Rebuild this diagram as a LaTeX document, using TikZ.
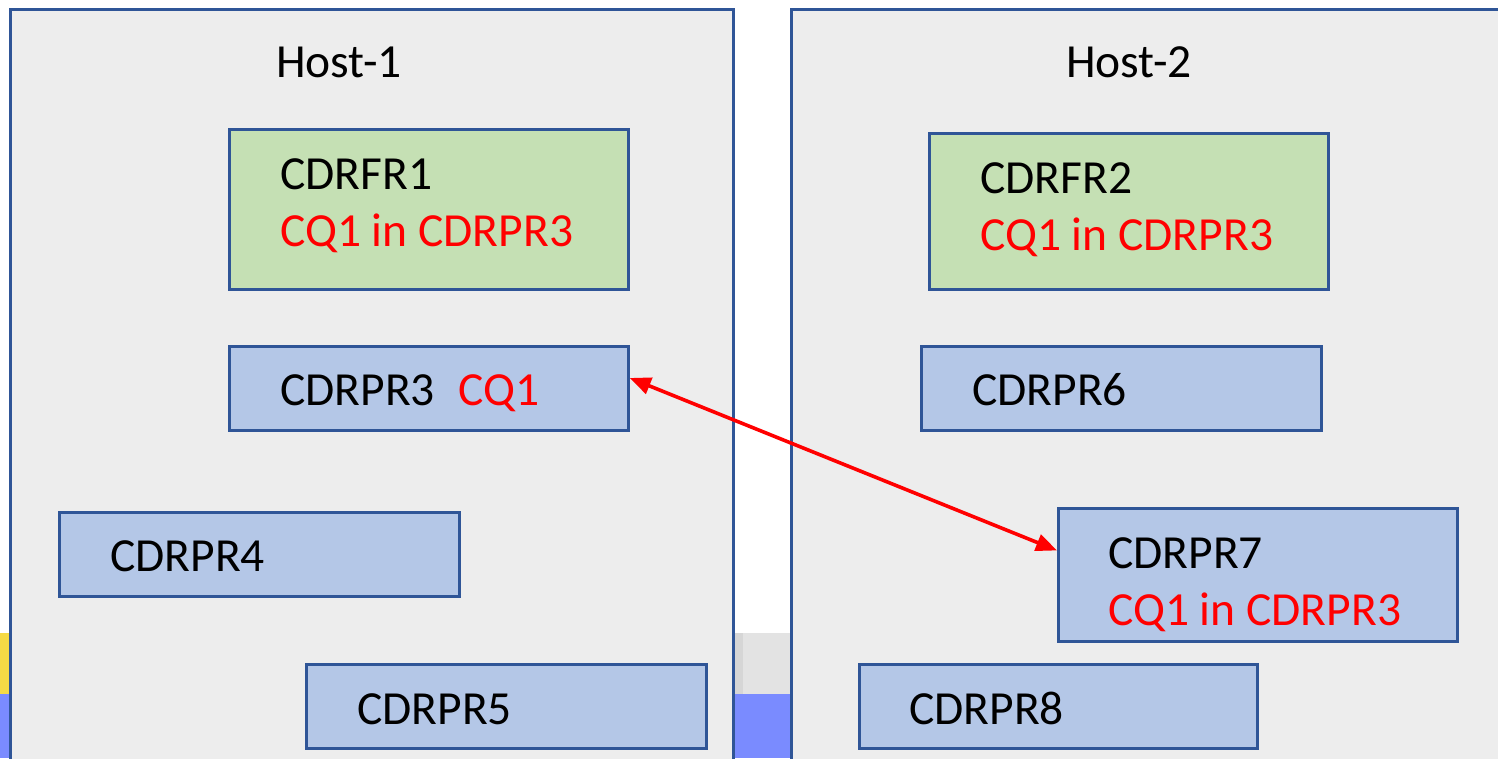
\documentclass[tikz,border=0pt]{standalone}
\usepackage{fontspec}
\setmainfont{Carlito}
\usetikzlibrary{arrows.meta,calc}
\definecolor{frame}{HTML}{2F5597}
\definecolor{hostfill}{HTML}{EDEDED}
\definecolor{prfill}{HTML}{B4C7E7}
\definecolor{frfill}{HTML}{C5E0B4}
\definecolor{stripblue}{HTML}{7A8BFF}
\definecolor{stripyellow}{HTML}{F5DA45}
\definecolor{cqred}{HTML}{FF0000}
\tikzset{
  host/.style={draw=frame, line width=3pt, fill=hostfill, anchor=north west, inner sep=0pt},
  prbox/.style={draw=frame, line width=2.8pt, fill=prfill, anchor=north west, inner sep=0pt},
  frbox/.style={draw=frame, line width=2.8pt, fill=frfill, anchor=north west, inner sep=0pt},
  txt/.style={anchor=base west, inner sep=0pt, font=\fontsize{47.5}{57}\selectfont, text=black},
  redtxt/.style={txt, text=cqred},
  link/.style={draw=cqred, line width=3.6pt, {Triangle[length=21pt,width=17pt]}-{Triangle[length=21pt,width=17pt]}}
}
\begin{document}
\begin{tikzpicture}[x=1pt,y=-1pt]
\useasboundingbox (0,0) rectangle (1498,758);
\clip (0,0) rectangle (1498,758);
\fill[white] (0,0) rectangle (1498,758);
% coloured strips showing behind the hosts
\fill[stripyellow] (0,633) rectangle (12,694);
\fill[stripblue] (0,694) rectangle (12,758);
\fill[gray!22] (730,633) rectangle (792,694);
\fill[gray!32] (733,633) rectangle (743,694);
\fill[stripblue] (730,694) rectangle (792,758);
% hosts
\node[host, minimum width=723pt, minimum height=770pt] (h1) at (9,8) {};
\node[host, minimum width=730pt, minimum height=770pt] (h2) at (790,8) {};
\node[txt] (h1t) at (276,77) {Host-1};
\node[txt] (h2t) at (1066,77) {Host-2};
% Host-1 regions
\node[frbox, minimum width=399pt, minimum height=160pt] (fr1) at (228,128) {};
\node[txt] (fr1a) at (280,189) {CDRFR1};
\node[redtxt] (fr1b) at (280,246) {CQ1 in CDRPR3};
\node[prbox, minimum width=399pt, minimum height=84pt] (p3) at (228,345) {};
\node[txt] (p3a) at (280,405) {CDRPR3};
\node[redtxt] (p3b) at (458,405) {CQ1};
\node[prbox, minimum width=400pt, minimum height=84pt] (p4) at (58,511) {};
\node[txt] (p4a) at (110,571) {CDRPR4};
\node[prbox, minimum width=400pt, minimum height=84pt] (p5) at (305,663) {};
\node[txt] (p5a) at (357,724) {CDRPR5};
% Host-2 regions
\node[frbox, minimum width=399pt, minimum height=156pt] (fr2) at (928,132) {};
\node[txt] (fr2a) at (980,193) {CDRFR2};
\node[redtxt] (fr2b) at (980,250) {CQ1 in CDRPR3};
\node[prbox, minimum width=400pt, minimum height=84pt] (p6) at (920,345) {};
\node[txt] (p6a) at (972,405) {CDRPR6};
\node[prbox, minimum width=399pt, minimum height=133pt] (p7) at (1057,507) {};
\node[txt] (p7a) at (1108,568) {CDRPR7};
\node[redtxt] (p7b) at (1108,625) {CQ1 in CDRPR3};
\node[prbox, minimum width=398pt, minimum height=84pt] (p8) at (858,663) {};
\node[txt] (p8a) at (909,724) {CDRPR8};
% replication link
\draw[link] ($(p3.north east)!0.38!(p3.south east)$) -- ($(p7.north west)!0.32!(p7.south west)$);
\end{tikzpicture}
\end{document}
